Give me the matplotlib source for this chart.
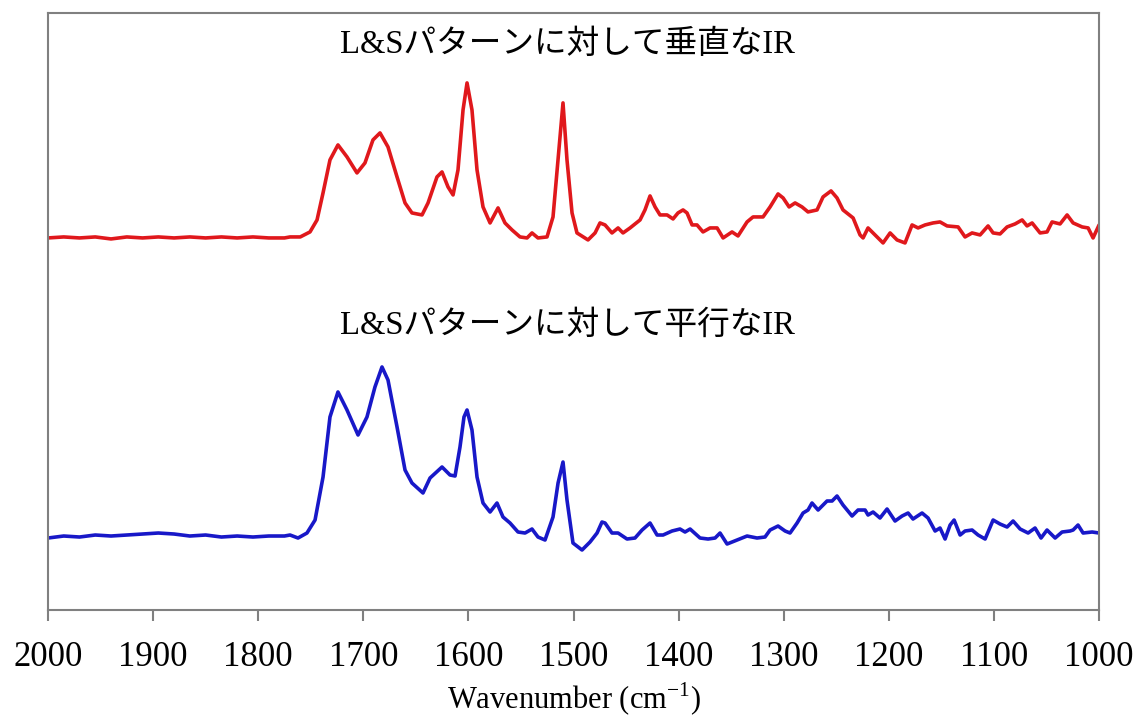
import matplotlib
matplotlib.use("Agg")
import matplotlib.pyplot as plt

# IR spectra (wavenumber in cm-1, absorbance in arbitrary units, 0 = baseline)
wn_perp = [2000, 1985, 1970, 1955, 1940, 1925, 1910, 1895, 1880, 1865, 1850, 1835, 1820, 1805, 1790, 1775,
           1769.7, 1760, 1750.7, 1744, 1738.3, 1731.7, 1724.1, 1715.5, 1706, 1698.4, 1690.8, 1684.1, 1676.5,
           1667.9, 1660.3, 1653.7, 1644.1, 1638.4, 1629.9, 1625.1, 1619.4, 1614.6, 1609.9, 1605.1, 1601.3,
           1596.6, 1591.8, 1586.1, 1579.4, 1571.8, 1565.2, 1558.5, 1550.9, 1544.2, 1539.5, 1533.8, 1525.2,
           1519.5, 1514.7, 1510, 1506.2, 1501.4, 1496.7, 1486.2, 1479.5, 1474.8, 1470, 1463.4, 1457.6, 1452.9,
           1446.2, 1436.7, 1432, 1427.2, 1422.4, 1417.7, 1411, 1405.3, 1400.6, 1395.8, 1392, 1387.2, 1382.5,
           1376.8, 1370.1, 1363.4, 1357.7, 1349.2, 1343.5, 1334.9, 1329.2, 1319.7, 1313, 1305.4, 1300.6,
           1294.9, 1289.2, 1282.6, 1276.9, 1268.3, 1262.6, 1255, 1249.3, 1243.6, 1234, 1227.4, 1224.5, 1219.8,
           1215, 1205.5, 1198.8, 1192.2, 1184.6, 1177.9, 1172.2, 1165.5, 1157.9, 1151.3, 1144.6, 1134.1,
           1127.5, 1120.8, 1113.2, 1105.6, 1100.8, 1094.2, 1087.5, 1079.9, 1073.2, 1068.5, 1063.7, 1056.1,
           1049.5, 1044.7, 1037.1, 1030.4, 1024.7, 1016.1, 1010.4, 1005.7, 1000]
ab_perp = [0.00, 0.01, 0.00, 0.01, -0.01, 0.01, 0.00, 0.01, 0.00, 0.01, 0.00, 0.01, 0.00, 0.01, 0.00, 0.00,
           0.01, 0.01, 0.06, 0.18, 0.45, 0.78, 0.93, 0.81, 0.65, 0.75, 0.98, 1.05, 0.91,
           0.61, 0.35, 0.25, 0.23, 0.35, 0.61, 0.66, 0.51, 0.43, 0.68, 1.28, 1.55,
           1.28, 0.68, 0.31, 0.15, 0.30, 0.15, 0.08, 0.01, 0.00, 0.05, 0.00, 0.01,
           0.21, 0.78, 1.35, 0.78, 0.25, 0.05, -0.02, 0.05, 0.15, 0.13, 0.05, 0.10, 0.05,
           0.10, 0.18, 0.28, 0.42, 0.31, 0.23, 0.23, 0.19, 0.25, 0.28, 0.25, 0.13, 0.13,
           0.06, 0.10, 0.10, 0.00, 0.06, 0.02, 0.16, 0.21, 0.21, 0.31, 0.44, 0.40,
           0.31, 0.35, 0.31, 0.26, 0.28, 0.41, 0.47, 0.40, 0.28, 0.20, 0.03, 0.00, 0.10,
           0.05, -0.05, 0.05, -0.02, -0.05, 0.13, 0.10, 0.13, 0.15, 0.16, 0.12, 0.11,
           0.01, 0.05, 0.03, 0.12, 0.05, 0.04, 0.11, 0.14, 0.18, 0.12, 0.15, 0.05,
           0.06, 0.16, 0.14, 0.23, 0.15, 0.11, 0.10, 0.00, 0.13]

wn_para = [2000, 1985, 1970, 1955, 1940, 1925, 1910, 1895, 1880, 1865, 1850, 1835, 1820, 1805, 1790, 1775,
           1769.7, 1762.1, 1753.6, 1745.9, 1738.3, 1731.7, 1724.1, 1715.5, 1705, 1696.5, 1688.9, 1682.2,
           1676.5, 1667.9, 1660.3, 1653.7, 1643.2, 1636.5, 1625.1, 1617.5, 1612.7, 1608, 1604.2, 1601.3,
           1596.6, 1591.8, 1586.1, 1579.4, 1572.8, 1567.1, 1560.4, 1552.8, 1546.1, 1539.5, 1533.8, 1527.1,
           1519.5, 1514.7, 1510, 1506.2, 1500.5, 1491.9, 1484.3, 1477.6, 1472.9, 1470, 1463.4, 1457.6, 1449.1,
           1441.5, 1434.8, 1427.2, 1420.5, 1414.8, 1406.3, 1398.7, 1393.9, 1389.1, 1379.6, 1372, 1365.3,
           1360.6, 1353.9, 1344.4, 1334.9, 1325.4, 1317.8, 1313, 1305.4, 1298.7, 1294, 1287.3, 1281.6,
           1276.9, 1273.1, 1267.3, 1258.8, 1254, 1249.3, 1243.6, 1235, 1229.3, 1222.6, 1219.8, 1215, 1208.4,
           1201.7, 1194.1, 1187.4, 1181.7, 1177, 1168.4, 1162.7, 1156, 1151.3, 1146.5, 1141.7, 1137.9,
           1132.2, 1127.5, 1120.8, 1115.1, 1108.4, 1100.8, 1094.2, 1087.5, 1081.8, 1075.1, 1067.5, 1060.9,
           1055.2, 1049.5, 1041.8, 1035.2, 1027.6, 1024.7, 1020, 1015.2, 1006.6, 1000]
ab_para = [-0.01, 0.01, 0.00, 0.02, 0.01, 0.02, 0.03, 0.04, 0.03, 0.01, 0.02, 0.00, 0.01, 0.00, 0.01, 0.01,
           0.02, -0.01, 0.04, 0.17, 0.60, 1.20, 1.45, 1.27, 1.02, 1.20, 1.50, 1.70,
           1.57, 1.10, 0.67, 0.54, 0.44, 0.59, 0.70, 0.62, 0.61, 0.90, 1.20, 1.27,
           1.07, 0.60, 0.34, 0.25, 0.34, 0.20, 0.14, 0.05, 0.04, 0.08, 0.00, -0.03,
           0.20, 0.54, 0.75, 0.37, -0.06, -0.13, -0.05, 0.04, 0.15, 0.14, 0.04, 0.04, -0.02,
           -0.01, 0.07, 0.14, 0.02, 0.02, 0.06, 0.08, 0.05, 0.08, -0.01, -0.02, -0.01,
           0.04, -0.07, -0.03, 0.01, -0.01, 0.00, 0.07, 0.11, 0.06, 0.04, 0.14, 0.24,
           0.27, 0.34, 0.27, 0.36, 0.36, 0.41, 0.32, 0.21, 0.27, 0.27, 0.22, 0.25, 0.19,
           0.28, 0.16, 0.21, 0.24, 0.18, 0.24, 0.19, 0.06, 0.09, -0.02, 0.12, 0.17,
           0.02, 0.06, 0.07, 0.02, -0.02, 0.17, 0.13, 0.10, 0.16, 0.08, 0.04, 0.09,
           -0.01, 0.07, -0.01, 0.05, 0.06, 0.07, 0.12, 0.04, 0.05, 0.04]

labels = ["L&Sパターンに対して垂直なIR", "L&Sパターンに対して平行なIR"]
xticks = [2000, 1900, 1800, 1700, 1600, 1500, 1400, 1300, 1200, 1100, 1000]

plt.rcParams['mathtext.fontset'] = 'custom'
plt.rcParams['mathtext.rm'] = 'Liberation Serif'
fam = ['Liberation Serif', 'Noto Sans CJK JP']

fig = plt.figure(figsize=(11.42, 7.16), dpi=100)
ax = fig.add_axes([0.042, 0.148, 0.9204, 0.834])

off_perp = 3.72
off_para = 0.73
ax.plot(wn_perp, [v + off_perp for v in ab_perp], color='#e0181c', lw=2.6,
        solid_joinstyle='round', solid_capstyle='round')
ax.plot(wn_para, [v + off_para for v in ab_para], color='#1818c8', lw=2.6,
        solid_joinstyle='round', solid_capstyle='round')

ax.set_xlim(2000, 1000)
ax.set_ylim(0, 5.97)
ax.set_xticks(xticks)
ax.set_xticklabels([str(t) for t in xticks], family=fam, fontsize=25)
ax.set_yticks([])
for s in ax.spines.values():
    s.set_color('#808080')
    s.set_linewidth(1.5)
ax.tick_params(axis='x', direction='out', length=8, width=1.5, color='#808080', pad=14)

ax.text(0.494, 0.946, labels[0], transform=ax.transAxes, ha='center', va='center', family=fam, fontsize=23.5)
ax.text(0.494, 0.477, labels[1], transform=ax.transAxes, ha='center', va='center', family=fam, fontsize=23.5)

ax.set_xlabel('Wavenumber (cm$^{\\mathrm{-1}}$)', family=fam, fontsize=22, labelpad=5)

fig.savefig('out.png', dpi=100)
